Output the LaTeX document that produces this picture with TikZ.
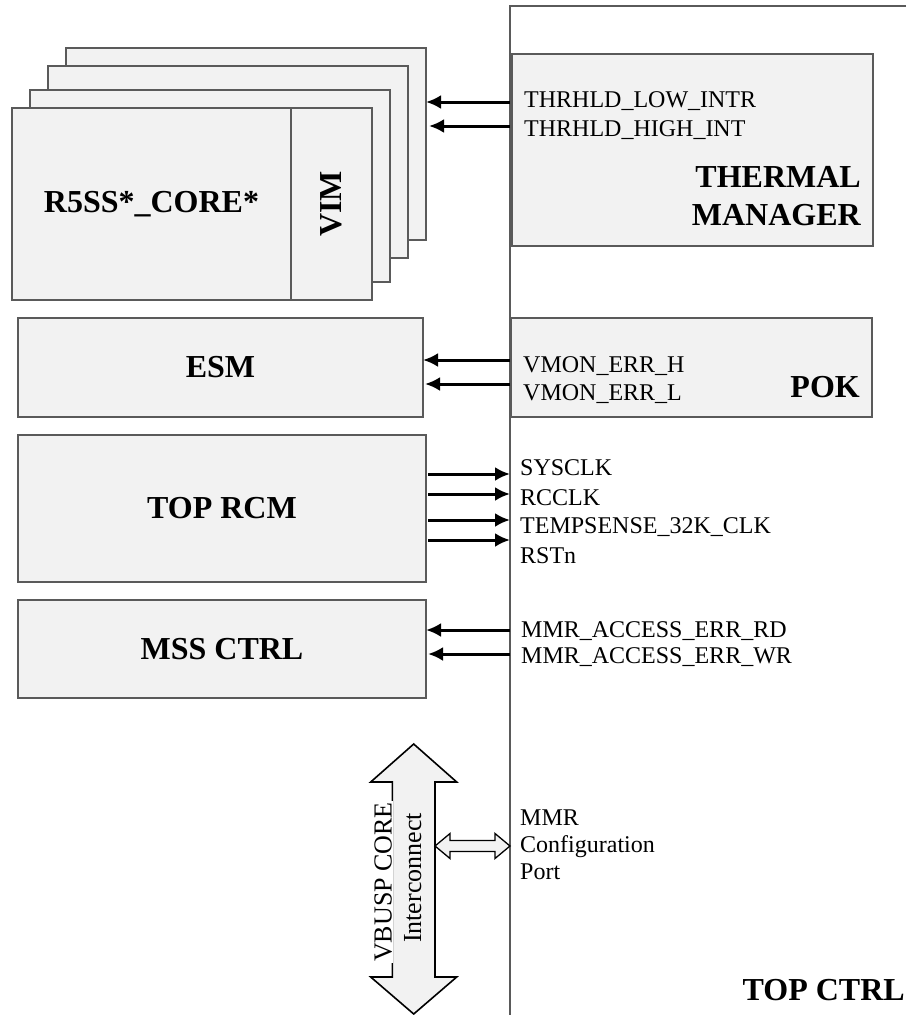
\documentclass[tikz,border=0pt]{standalone}
\usepackage{fontspec}
\setmainfont{Liberation Serif}
\usetikzlibrary{arrows.meta}

\definecolor{boxfill}{HTML}{F2F2F2}
\definecolor{boxline}{HTML}{5A5A5A}

\begin{document}
\begin{tikzpicture}[x=1pt,y=-1pt,>={Latex[length=15pt,width=14pt]},
  blk/.style={draw=boxline,fill=boxfill,line width=1.4pt,inner sep=0pt,outer sep=0pt},
  title/.style={font=\fontsize{32}{38}\selectfont\bfseries,inner sep=0pt},
  sig/.style={->,line width=3pt},
  lbl/.style={anchor=base west,inner sep=0pt,font=\fontsize{24}{28}\selectfont},
  bus/.style={draw=black,fill=boxfill,line width=1.6pt,line join=miter}]
  \useasboundingbox (0,0) rectangle (906,1015);
  % TOP CTRL frame
  \coordinate (tcl) at (510,6);
  \draw[draw=boxline,line width=1.4pt] (906,6) -- (tcl) -- (510,1015);
  \node[title,anchor=base east] (tctrl) at (905,1000) {TOP CTRL};

  % R5SS stack
  \node[blk,minimum width=360pt,minimum height=192pt] (r5d) at (246,144) {};
  \node[blk,minimum width=360pt,minimum height=192pt] (r5c) at (228,162) {};
  \node[blk,minimum width=360pt,minimum height=192pt] (r5b) at (210,186) {};
  \node[blk,title,minimum width=279pt,minimum height=192pt] (core) at (151.5,204) {R5SS*\_CORE*};
  \node[blk,title,minimum width=192pt,minimum height=81pt,rotate=90] (vim) at (331.5,204) {VIM};

  % left side blocks
  \node[blk,title,minimum width=405pt,minimum height=99pt] (esm) at (220.5,367.5) {ESM};
  \node[blk,title,minimum width=408pt,minimum height=147pt] (rcm) at (222,508.5) {TOP RCM};
  \node[blk,title,minimum width=408pt,minimum height=98pt] (mss) at (222,649) {MSS CTRL};

  % right side blocks
  \node[blk,minimum width=361pt,minimum height=192pt] (thm) at (692.5,150) {};
  \node[title,align=right,anchor=east] (thmname) at (861,196.5) {THERMAL\\MANAGER};
  \node[blk,minimum width=361pt,minimum height=99pt] (pok) at (691.5,367.5) {};
  \node[title,anchor=base east] (pokname) at (860,397) {POK};

  % signal names
  \node[lbl] (lowintr) at (524,107) {THRHLD\_LOW\_INTR};
  \node[lbl] (highint) at (524,136) {THRHLD\_HIGH\_INT};
  \node[lbl] (vmonh) at (523,372) {VMON\_ERR\_H};
  \node[lbl] (vmonl) at (523,400) {VMON\_ERR\_L};
  \node[lbl] (sysclk) at (520,475) {SYSCLK};
  \node[lbl] (rcclk) at (520,505) {RCCLK};
  \node[lbl] (tsclk) at (520,533) {TEMPSENSE\_32K\_CLK};
  \node[lbl] (rstn) at (520,563) {RSTn};
  \node[lbl] (errrd) at (521,637) {MMR\_ACCESS\_ERR\_RD};
  \node[lbl] (errwr) at (521,663) {MMR\_ACCESS\_ERR\_WR};
  \node[lbl,anchor=west,align=left,font=\fontsize{24}{27}\selectfont] (mmrport) at (520,845) {MMR\\Configuration\\Port};

  % signals
  \draw[sig] (tcl |- 0,102) -- (r5d.east |- 0,102);
  \draw[sig] (tcl |- 0,126) -- ([xshift=3pt]r5d.east |- 0,126);
  \draw[sig] (tcl |- 0,360) -- (esm.east |- 0,360);
  \draw[sig] (tcl |- 0,384) -- ([xshift=2pt]esm.east |- 0,384);
  \draw[sig,shorten <=2pt] (rcm.east |- 0,474) -- (tcl |- 0,474);
  \draw[sig,shorten <=2pt] (rcm.east |- 0,494) -- (tcl |- 0,494);
  \draw[sig,shorten <=2pt] (rcm.east |- 0,520) -- (tcl |- 0,520);
  \draw[sig,shorten <=2pt] (rcm.east |- 0,540) -- (tcl |- 0,540);
  \draw[sig] (tcl |- 0,630) -- (mss.east |- 0,630);
  \draw[sig] (tcl |- 0,654) -- ([xshift=2pt]mss.east |- 0,654);

  % VBUSP interconnect
  \draw[bus] (413.7,744) -- (456.7,782) -- (435,782) -- (435,977) -- (456.7,977) -- (413.7,1014)
    -- (370.7,977) -- (392.3,977) -- (392.3,782) -- (370.7,782) -- cycle;
  \node[rotate=90,fill=white,inner sep=1.5pt,anchor=base,font=\fontsize{26}{30}\selectfont] (vbusp) at (391.5,882) {VBUSP CORE};
  \node[rotate=90,inner sep=0pt,anchor=base,font=\fontsize{26}{30}\selectfont] (icon) at (421,878) {Interconnect};
  \draw[bus,line width=1.3pt] (435,846) -- (450,833.5) -- (450,840.5) -- (495,840.5) -- (495,833.5) -- (510,846)
    -- (495,858.5) -- (495,851.5) -- (450,851.5) -- (450,858.5) -- cycle;
\end{tikzpicture}
\end{document}
